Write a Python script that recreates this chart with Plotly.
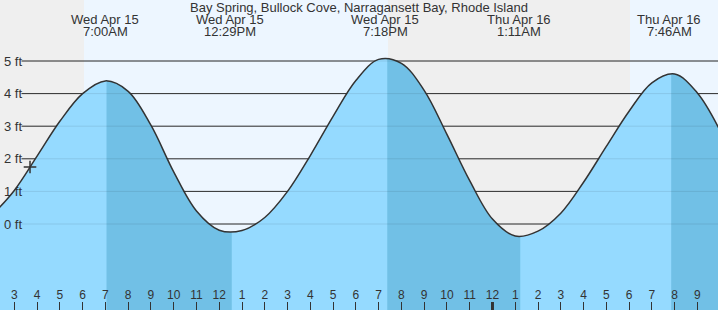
import plotly.graph_objects as go

title = "Bay Spring, Bullock Cove, Narragansett Bay, Rhode Island"

# hours since Wed Apr 15 00:00, tide height in ft (hourly)
times = [2, 3, 4, 5, 6, 7, 8, 9, 10, 11, 12, 13, 14, 15, 16, 17, 18, 19, 20, 21, 22, 23,
         24, 25, 26, 27, 28, 29, 30, 31, 32, 33, 34]
heights = [0.25, 1.03, 2.08, 3.15, 4.0, 4.39, 4.07, 3.03, 1.6, 0.4, -0.19, -0.2, 0.2,
           1.0, 2.1, 3.3, 4.4, 5.05, 4.93, 4.1, 2.75, 1.33, 0.15, -0.37, -0.22, 0.33, 1.28,
           2.38, 3.46, 4.33, 4.6, 4.02, 2.86]

# falling-tide intervals (high water -> low water), shaded darker
falling = [(7.05, 12.55), (19.38, 25.22), (31.85, 33.905)]

label_times = [7.0, 12.483, 19.3, 25.183, 31.767]
label_days = ["Wed Apr 15", "Wed Apr 15", "Wed Apr 15", "Thu Apr 16", "Thu Apr 16"]
label_clock = ["7:00AM", "12:29PM", "7:18PM", "1:11AM", "7:46AM"]

sun_times = [6.06, 19.41, 30.04]   # sunrise, sunset, sunrise
now_time, now_height = 3.69, 1.75

hour_ticks = [3, 4, 5, 6, 7, 8, 9, 10, 11, 12, 13, 14, 15, 16, 17, 18, 19, 20, 21, 22, 23,
              24, 25, 26, 27, 28, 29, 30, 31, 32, 33]
hour_labels = ["3", "4", "5", "6", "7", "8", "9", "10", "11", "12", "1", "2", "3", "4", "5",
               "6", "7", "8", "9", "10", "11", "12", "1", "2", "3", "4", "5", "6", "7", "8", "9"]
midnight = 24

ft_levels = [0, 1, 2, 3, 4, 5]
ft_labels = ["0 ft", "1 ft", "2 ft", "3 ft", "4 ft", "5 ft"]

x_range = [2.372, 33.905]
y_range = [-2.638, 6.871]

W, H = 718, 310
FONT = "Liberation Sans, Arial, sans-serif"
TXT = "#333333"
NIGHT = "#efefef"
DAY = "#edf6ff"
LIGHT_WATER = "#95daff"
DARK_WATER = "#71c0e6"


def xfrac(t):
    return (t - x_range[0]) / (x_range[1] - x_range[0])


fig = go.Figure()
axes = {}

# light water under the whole curve (main axes)
fig.add_trace(go.Scatter(x=[times[0], times[-1]], y=[y_range[0], y_range[0]], mode="lines",
                         line=dict(width=0), hoverinfo="skip", showlegend=False))
fig.add_trace(go.Scatter(x=times, y=heights, mode="lines", fill="tonexty",
                         fillcolor=LIGHT_WATER, line=dict(width=0, shape="spline"),
                         hoverinfo="skip", showlegend=False))

# darker water during falling tide: same curve on axes clipped to each interval
for i, (a, b) in enumerate(falling):
    ax = "x%d" % (i + 2)
    axes["xaxis%d" % (i + 2)] = dict(domain=[max(0, xfrac(a)), min(1, xfrac(b))],
                                     range=[a, b], anchor="y", visible=False,
                                     fixedrange=True)
    fig.add_trace(go.Scatter(x=[times[0], times[-1]], y=[y_range[0], y_range[0]],
                             mode="lines", line=dict(width=0), xaxis=ax, yaxis="y",
                             hoverinfo="skip", showlegend=False))
    fig.add_trace(go.Scatter(x=times, y=heights, mode="lines", fill="tonexty",
                             fillcolor=DARK_WATER, line=dict(width=0, shape="spline"),
                             xaxis=ax, yaxis="y", hoverinfo="skip", showlegend=False))

top_ax = "x%d" % (len(falling) + 2)
# tide curve and current-time marker on the top-most axes
fig.add_trace(go.Scatter(x=times, y=heights, mode="lines", xaxis=top_ax, yaxis="y",
                         line=dict(color="#333333", width=1.5, shape="spline"),
                         showlegend=False))
fig.add_trace(go.Scatter(x=[now_time], y=[now_height], mode="markers", xaxis=top_ax,
                         yaxis="y",
                         marker=dict(symbol="cross-thin", size=9,
                                     line=dict(color="#333333", width=1.5)),
                         showlegend=False))
axes["xaxis%d" % (len(falling) + 2)] = dict(
    domain=[0, 1], range=x_range, anchor="y", tickvals=hour_ticks, ticktext=hour_labels,
    ticks="inside", ticklen=8, tickwidth=1, tickcolor="#333333",
    ticklabelposition="inside", showgrid=False, zeroline=False, showline=False,
    tickfont=dict(family=FONT, size=12, color=TXT), fixedrange=True)

shapes = []
# day / night background
edges = [x_range[0]] + sun_times + [x_range[1]]
for i in range(len(edges) - 1):
    shapes.append(dict(type="rect", xref="x", yref="paper", x0=edges[i], x1=edges[i + 1],
                       y0=0, y1=1, fillcolor=NIGHT if i % 2 == 0 else DAY,
                       line=dict(width=0), layer="below"))
# grid lines
gx0 = 21.5 / W
for lv in ft_levels:
    shapes.append(dict(type="line", xref="paper", yref="y", x0=gx0, x1=1, y0=lv, y1=lv,
                       line=dict(color="#333333", width=1), layer="below"))
    shapes.append(dict(type="line", xref="paper", yref="y", x0=gx0, x1=1, y0=lv, y1=lv,
                       line=dict(color="rgba(0,0,0,0.09)", width=1), layer="above"))
# thicker midnight tick
shapes.append(dict(type="line", xref="x", yref="paper", x0=midnight, x1=midnight,
                   y0=0, y1=8 / H, line=dict(color="#333333", width=3)))

annotations = []
for lv, lab in zip(ft_levels, ft_labels):
    annotations.append(dict(x=2 / W, xref="paper", y=lv, yref="y", text=lab,
                            showarrow=False, xanchor="left", yanchor="middle",
                            font=dict(family=FONT, size=13, color=TXT)))
annotations.append(dict(x=0.5, xref="paper", y=1 - 7.5 / H, yref="paper", text=title,
                        showarrow=False, xanchor="center", yanchor="middle",
                        font=dict(family=FONT, size=13, color=TXT)))
for t, d, c in zip(label_times, label_days, label_clock):
    annotations.append(dict(x=t, xref="x", y=1 - 19.5 / H, yref="paper", text=d,
                            showarrow=False, xanchor="center", yanchor="middle",
                            font=dict(family=FONT, size=13, color=TXT)))
    annotations.append(dict(x=t, xref="x", y=1 - 31.5 / H, yref="paper", text=c,
                            showarrow=False, xanchor="center", yanchor="middle",
                            font=dict(family=FONT, size=13, color=TXT)))

fig.update_layout(
    width=W, height=H, margin=dict(l=0, r=0, t=0, b=0),
    paper_bgcolor="white", plot_bgcolor="rgba(0,0,0,0)",
    shapes=shapes, annotations=annotations, showlegend=False,
    xaxis=dict(range=x_range, domain=[0, 1], visible=False, fixedrange=True),
    yaxis=dict(range=y_range, domain=[0, 1], showgrid=False, zeroline=False,
               showticklabels=False, showline=False, fixedrange=True),
    **axes,
)

fig.write_html("out.html")
